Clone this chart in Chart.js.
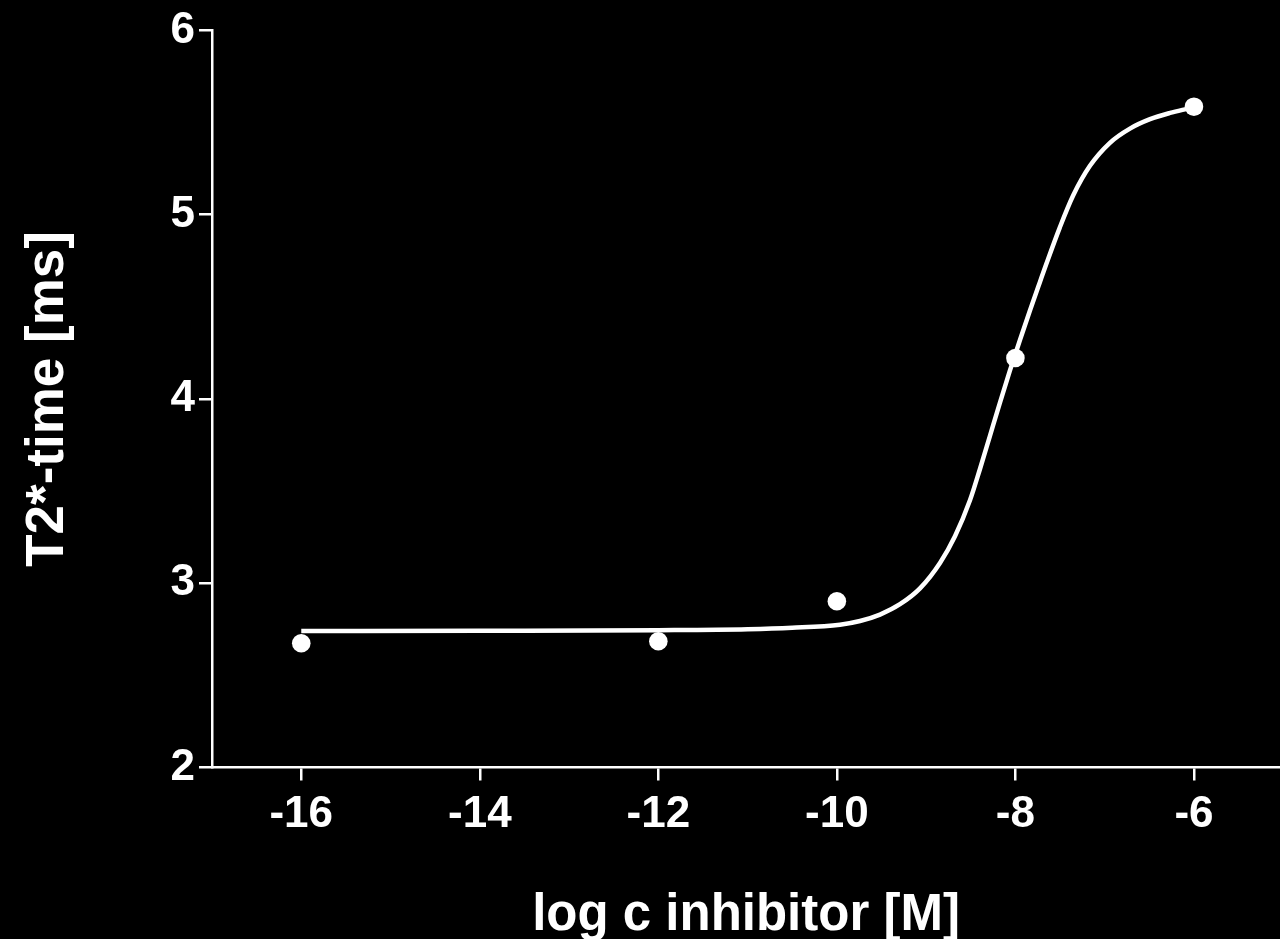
<!DOCTYPE html>
<html>
<head>
<meta charset="utf-8">
<script src="https://cdn.jsdelivr.net/npm/chart.js@4/dist/chart.umd.min.js"></script>
<style>
html,body{margin:0;padding:0;background:#000;}
canvas{display:block;}
</style>
</head>
<body>
<canvas id="c" width="1280" height="939"></canvas>
<script>
// Measured data points
const pointX = [-16, -12, -10, -8, -6];
const pointY = [2.674, 2.685, 2.902, 4.222, 5.586];

// Fitted curve
const curveX = [-16, -14, -12, -11, -10.5, -9.965, -9.741, -9.517, -9.293, -9.069, -8.845, -8.677, -8.509, -8.397, -8.285, -8.173, -8.061, -7.949, -7.837, -7.725, -7.652, -7.503, -7.352, -7.165, -6.941, -6.717, -6.492, -6.268, -6.081, -6.0];
const curveY = [2.741, 2.742, 2.745, 2.750, 2.758, 2.775, 2.795, 2.830, 2.886, 2.972, 3.110, 3.255, 3.450, 3.620, 3.800, 3.980, 4.155, 4.320, 4.480, 4.635, 4.735, 4.930, 5.105, 5.265, 5.390, 5.467, 5.518, 5.552, 5.574, 5.583];

// Axis ticks
const xTickValues = [-16, -14, -12, -10, -8, -6];
const yTickValues = [2, 3, 4, 5, 6];

const xTitle = 'log c inhibitor [M]';
const yTitle = 'T2*-time [ms]';

const FONT = '"Liberation Sans", Arial, sans-serif';

const curveData = curveX.map((x, i) => ({x: x, y: curveY[i]}));
const pointData = pointX.map((x, i) => ({x: x, y: pointY[i]}));

const bgPlugin = {
  id: 'bg',
  beforeDraw(chart) {
    const ctx = chart.ctx;
    ctx.save();
    ctx.fillStyle = '#000';
    ctx.fillRect(0, 0, chart.width, chart.height);
    ctx.restore();
  }
};

new Chart(document.getElementById('c'), {
  type: 'scatter',
  data: {
    datasets: [
      {
        type: 'line',
        data: curveData,
        borderColor: '#fff',
        borderWidth: 4.5,
        pointRadius: 0,
        fill: false,
        cubicInterpolationMode: 'monotone',
        borderCapStyle: 'butt',
        clip: false,
        order: 2
      },
      {
        data: pointData,
        showLine: false,
        backgroundColor: '#fff',
        borderColor: '#fff',
        borderWidth: 0,
        pointRadius: 9.3,
        clip: false,
        order: 1
      }
    ]
  },
  options: {
    responsive: false,
    animation: false,
    devicePixelRatio: 1,
    layout: {autoPadding: false, padding: {top: 29, right: 0, bottom: 0, left: 0}},
    plugins: {legend: {display: false}, tooltip: {enabled: false}},
    scales: {
      x: {
        type: 'linear',
        min: -17,
        max: -5.036,
        afterBuildTicks: s => { s.ticks = xTickValues.map(v => ({value: v})); },
        afterFit: s => { s.height = 171.5; },
        grid: {drawOnChartArea: false, drawTicks: true, tickLength: 13, color: '#fff', lineWidth: 2.5},
        border: {color: '#fff', width: 2.5},
        ticks: {color: '#fff', font: {family: FONT, size: 44, weight: 'bold'}, padding: 8, maxRotation: 0},
        title: {display: true, text: xTitle, color: '#fff', font: {family: FONT, size: 51, weight: 'bold', lineHeight: 0.9}, padding: 0}
      },
      y: {
        type: 'linear',
        min: 2,
        max: 6,
        afterBuildTicks: s => { s.ticks = yTickValues.map(v => ({value: v})); },
        afterFit: s => { s.width = 212; },
        grid: {drawOnChartArea: false, drawTicks: true, tickLength: 13, color: '#fff', lineWidth: 2.5},
        border: {color: '#fff', width: 2.5},
        ticks: {color: '#fff', font: {family: FONT, size: 44, weight: 'bold'}, padding: 4},
        title: {display: true, text: yTitle, color: '#fff', font: {family: FONT, size: 53, weight: 'bold'}, padding: {top: 17, bottom: 0}}
      }
    }
  },
  plugins: [bgPlugin]
});
</script>
</body>
</html>
